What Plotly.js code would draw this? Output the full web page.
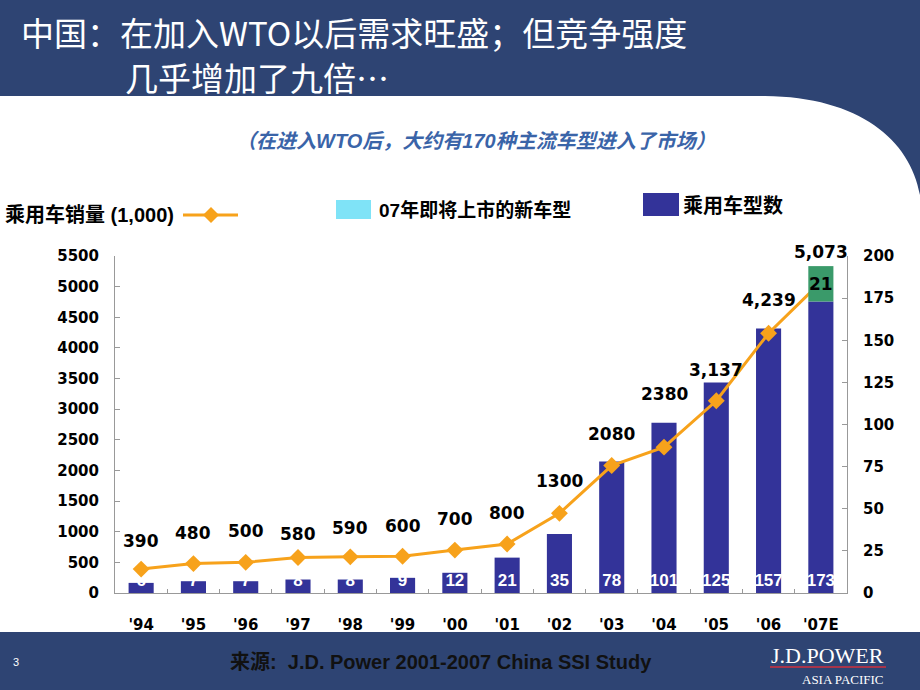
<!DOCTYPE html>
<html>
<head>
<meta charset="utf-8">
<script src="https://cdn.plot.ly/plotly-3.0.1.min.js"></script>
<style>html,body{margin:0;padding:0;background:#fff;}#chart{width:920px;height:690px;}</style>
</head>
<body>
<div id="chart"></div>
<script>
// ---------------- DATA ----------------
const years = ["'94","'95","'96","'97","'98","'99","'00","'01","'02","'03","'04","'05","'06","'07E"];
const sales = [390,480,500,580,590,600,700,800,1300,2080,2380,3137,4239,5073];
const salesLabels = ["390","480","500","580","590","600","700","800","1300","2080","2380","3,137","4,239","5,073"];
const models = [6,7,7,8,8,9,12,21,35,78,101,125,157,173];
const newYears = ["'07E"];
const newModels = [21];
const newBase = [173];
const leftTicks = [0,500,1000,1500,2000,2500,3000,3500,4000,4500,5000,5500];
const rightTicks = [0,25,50,75,100,125,150,175,200];

// --------------- STYLE ----------------
const NAVY_BG = '#2E4473';
const BAR = '#333399';
const GREEN = '#3A9A6A';
const ORANGE = '#F7A21B';
const CYAN = '#7FE3F7';
const NUM = 'DejaVu Sans';
const CJK = 'Liberation Sans, Noto Sans CJK SC';
const labelShift = [28,31,31,23,29,30,31,31,32,32,53,31,33,30];

const L = 115, R = 847, T = 256, B = 593;
const px = x => (x - L) / (R - L);
const py = y => (B - y) / (B - T);
const P = (x, y) => px(x) + ',' + py(y);

const traces = [
  {type:'bar', x: years, y: models, xaxis:'x', yaxis:'y',
   marker:{color: BAR}, text: models.map(String), textposition:'inside', textangle:0,
   insidetextanchor:'start', constraintext:'none',
   textfont:{family:'Liberation Sans Narrow, Liberation Sans', size:17, color:'#ffffff', weight:'bold'},
   hoverinfo:'skip', showlegend:false},
  {type:'scatter', mode:'lines+markers', x: years, y: sales, xaxis:'x', yaxis:'y2',
   line:{color: ORANGE, width:3}, marker:{symbol:'diamond', size:13, color: ORANGE},
   cliponaxis:false, hoverinfo:'skip', showlegend:false},
  {type:'bar', x: newYears, y: newModels, base: newBase, xaxis:'x', yaxis:'y3',
   marker:{color: GREEN}, text: newModels.map(String), textposition:'inside', textangle:0,
   insidetextanchor:'middle', constraintext:'none',
   textfont:{family: NUM, size:17, color:'#000000', weight:'bold'},
   hoverinfo:'skip', showlegend:false}
];

const annotations = [];
years.forEach((yr, i) => {
  annotations.push({x: yr, y: sales[i], xref:'x', yref:'y2', text: salesLabels[i],
    showarrow:false, yshift: labelShift[i], xanchor:'center', yanchor:'middle',
    font:{family: NUM, size:17, color:'#000', weight:'bold'}});
});

function pa(x, y, text, font, xanchor) {
  return {xref:'paper', yref:'paper', x: px(x), y: py(y), text, showarrow:false,
    xanchor: xanchor || 'left', yanchor:'middle', font, borderpad:0, align:'left'};
}
annotations.push(pa(20, 32, '中国：在加入WTO以后需求旺盛；但竞争强度', {family:'Noto Sans CJK SC', size:33, color:'#ffffff'}));
annotations.push(pa(124, 77, '几乎增加了九倍…', {family:'Noto Sans CJK SC', size:33, color:'#ffffff'}));
annotations.push(pa(476, 141, '<b><i>（在进入WTO后，大约有170种主流车型进入了市场）</i></b>', {family: CJK, size:20, color:'#3A64A8'}, 'center'));
annotations.push(pa(4, 215, '<b>乘用车销量 (1,000)</b>', {family: CJK, size:20, color:'#000'}));
annotations.push(pa(378, 210, '<b>07年即将上市的新车型</b>', {family: CJK, size:19, color:'#000'}));
annotations.push(pa(682, 205, '<b>乘用车型数</b>', {family: CJK, size:20, color:'#000'}));
annotations.push(pa(441, 662, '<b>来源:  J.D. Power 2001-2007 China SSI Study</b>', {family: CJK, size:20, color:'#111'}, 'center'));
annotations.push(pa(12, 662, '3', {family:'Liberation Sans', size:11, color:'#ffffff'}));
annotations.push(pa(885, 655, 'J.D.POWER', {family:'Liberation Serif', size:22, color:'#ffffff'}, 'right'));
annotations.push(pa(885, 679, 'ASIA PACIFIC', {family:'Liberation Serif', size:13, color:'#ffffff'}, 'right'));

const shapes = [
  {type:'path', xref:'paper', yref:'paper', layer:'below', line:{width:0}, fillcolor: NAVY_BG,
   path:'M ' + P(0,0) + ' L ' + P(920,0) + ' L ' + P(920,195) + ' C ' + P(910,140) + ' ' + P(860,97) + ' ' + P(765,96) + ' L ' + P(0,96) + ' Z'},
  {type:'rect', xref:'paper', yref:'paper', layer:'below', line:{width:0}, fillcolor: NAVY_BG,
   x0: px(0), x1: px(920), y0: py(632), y1: py(690)},
  {type:'line', xref:'paper', yref:'paper', x0: px(770), x1: px(886), y0: py(667), y1: py(667), line:{color:'#A8344A', width:2}},
  {type:'line', xref:'paper', yref:'paper', x0: px(183), x1: px(238), y0: py(215), y1: py(215), line:{color: ORANGE, width:3}},
  {type:'path', xref:'paper', yref:'paper', line:{width:0}, fillcolor: ORANGE,
   path:'M ' + P(211,207) + ' L ' + P(219,215) + ' L ' + P(211,223) + ' L ' + P(203,215) + ' Z'},
  {type:'rect', xref:'paper', yref:'paper', line:{width:0}, fillcolor: CYAN, x0: px(336), x1: px(371), y0: py(200), y1: py(219)},
  {type:'rect', xref:'paper', yref:'paper', line:{width:0}, fillcolor: BAR, x0: px(643), x1: px(679), y0: py(193), y1: py(216)}
];

const axisLine = '#999999';
const layout = {
  width: 920, height: 690,
  margin: {l: L, r: 920 - R, t: T, b: 690 - B, pad: 0},
  paper_bgcolor:'#ffffff', plot_bgcolor:'rgba(0,0,0,0)',
  bargap: 0.52, showlegend:false,
  xaxis: {type:'category', categoryorder:'array', categoryarray: years, range:[-0.5, years.length - 0.5],
    showline:true, linecolor: axisLine, linewidth:1, ticks:'inside', ticklen:4, tickcolor: axisLine,
    tickson:'boundaries', showgrid:false, zeroline:false, ticklabelstandoff: 18,
    tickfont:{family: NUM, size:15, color:'#000', weight:'bold'}},
  yaxis: {side:'right', range:[0,200], tickvals: rightTicks, showline:true, linecolor: axisLine,
    ticks:'inside', ticklen:5, tickcolor: axisLine, showgrid:false, zeroline:false, ticklabelstandoff: 12,
    tickfont:{family: NUM, size:15, color:'#000', weight:'bold'}},
  yaxis2: {overlaying:'y', side:'left', range:[0,5500], tickvals: leftTicks, showline:true, linecolor: axisLine,
    ticks:'inside', ticklen:5, tickcolor: axisLine, showgrid:false, zeroline:false, ticklabelstandoff: 12,
    tickfont:{family: NUM, size:15, color:'#000', weight:'bold'}},
  yaxis3: {overlaying:'y', side:'right', range:[0,200], visible:false, showgrid:false, zeroline:false},
  annotations, shapes
};

Plotly.newPlot('chart', traces, layout, {staticPlot:true, displayModeBar:false});
</script>
</body>
</html>
